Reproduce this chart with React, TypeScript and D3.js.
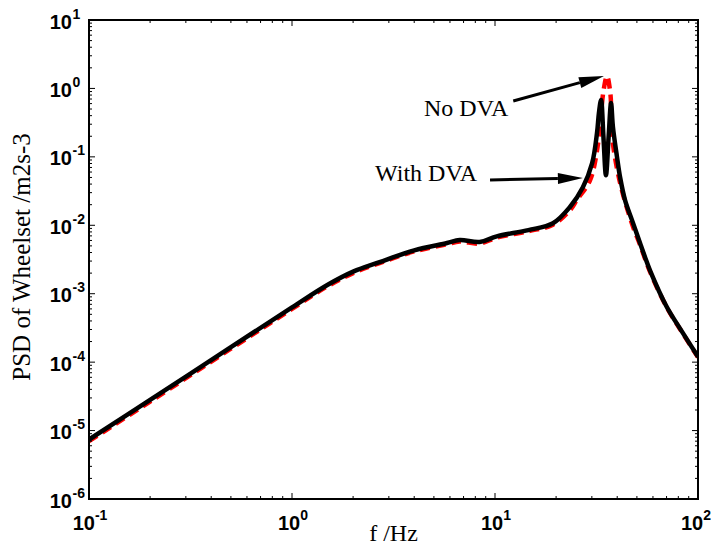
import React from "react";
import * as d3 from "d3";

const withDvaFreq = [0.1, 0.2, 0.5, 1, 1.5, 2, 2.7, 4, 5.8, 6.7, 8.4, 10.2, 14.6, 19.3, 23.4, 27.1, 30.1, 31.8, 32.5, 33.3, 34.2, 35.2, 36.3, 37.3, 38.1, 39.9, 41.3, 43.7, 47.3, 51.8, 54.8, 58, 70, 84, 100];
const withDvaPsd = [7.4e-6, 2.8e-5, 1.66e-4, 6.3e-4, 1.35e-3, 2.1e-3, 2.9e-3, 4.3e-3, 5.5e-3, 6.1e-3, 5.7e-3, 6.9e-3, 8.5e-3, 1.07e-2, 1.85e-2, 3.6e-2, 8.1e-2, 0.223, 0.437, 0.68, 0.2, 0.054, 0.2, 0.61, 0.273, 0.0995, 0.0508, 0.0234, 0.0119, 5.5e-3, 3.44e-3, 2.2e-3, 6.5e-4, 2.7e-4, 1.2e-4];

const noDvaFreq = [0.1, 0.2, 0.5, 1, 1.5, 2, 2.7, 4, 5.8, 6.7, 8.4, 10.2, 14.6, 19.3, 23.4, 25.3, 29.4, 32.5, 34.1, 35.6, 37.0, 37.8, 41.3, 47.3, 51.8, 58, 70, 84, 100];
const noDvaPsd = [7.0e-6, 2.65e-5, 1.57e-4, 6.0e-4, 1.29e-3, 2.0e-3, 2.8e-3, 4.15e-3, 5.3e-3, 5.8e-3, 5.4e-3, 6.6e-3, 8.2e-3, 1.02e-2, 1.66e-2, 2.34e-2, 4.57e-2, 0.19, 0.85, 1.51, 0.85, 0.19, 0.042, 0.0105, 5.2e-3, 2.1e-3, 6.4e-4, 2.65e-4, 1.18e-4];

const xTickExps = [-1, 0, 1, 2];
const yTickExps = [1, 0, -1, -2, -3, -4, -5, -6];

const xLabel = "f /Hz";
const yLabel = "PSD of Wheelset /m2s-3";
const annNoDva = { text: "No DVA", fromF: 12.3, fromV: 0.655, toF: 34.4, toV: 1.52 };
const annWithDva = { text: "With DVA", fromF: 9.45, fromV: 0.046, toF: 27.1, toV: 0.049 };

const W = 711, H = 547;
const L = 89, R = 698, T = 20, B = 499;
const tickFont = "'Liberation Sans', Arial, Helvetica, sans-serif";
const serif = "'Liberation Serif', 'Times New Roman', Times, serif";

function Arrow({ x1, y1, x2, y2 }: { x1: number; y1: number; x2: number; y2: number }) {
  const dx = x2 - x1, dy = y2 - y1;
  const len = Math.hypot(dx, dy);
  const ux = dx / len, uy = dy / len;
  const hl = 25, hw = 5.5;
  const bx = x2 - ux * hl, by = y2 - uy * hl;
  const px = -uy, py = ux;
  return (
    <g>
      <line x1={x1} y1={y1} x2={bx} y2={by} stroke="#000" strokeWidth={3} />
      <polygon points={`${x2},${y2} ${bx + px * hw},${by + py * hw} ${bx - px * hw},${by - py * hw}`} fill="#000" />
    </g>
  );
}

export default function App() {
  const x = d3.scaleLog().domain([0.1, 100]).range([L, R]);
  const y = d3.scaleLog().domain([1e-6, 10]).range([B, T]);

  const line = d3.line<[number, number]>()
    .x((d) => x(d[0]))
    .y((d) => y(d[1]))
    .curve(d3.curveCatmullRom.alpha(0.5));

  const withPts = withDvaFreq.map((f, i) => [f, withDvaPsd[i]] as [number, number]);
  const noPts = noDvaFreq.map((f, i) => [f, noDvaPsd[i]] as [number, number]);

  const xMinor: number[] = [];
  for (let e = -1; e < 2; e++) for (let m = 2; m <= 9; m++) xMinor.push(m * Math.pow(10, e));
  const yMinor: number[] = [];
  for (let e = -6; e < 1; e++) for (let m = 2; m <= 9; m++) yMinor.push(m * Math.pow(10, e));

  const a1 = { x1: x(annNoDva.fromF), y1: y(annNoDva.fromV), x2: x(annNoDva.toF), y2: y(annNoDva.toV) };
  const a2 = { x1: x(annWithDva.fromF), y1: y(annWithDva.fromV), x2: x(annWithDva.toF), y2: y(annWithDva.toV) };

  return (
    <svg width={W} height={H} style={{ position: "absolute", left: 0, top: 0, background: "#fff" }}>
      <defs>
        <clipPath id="plotclip">
          <rect x={L} y={T} width={R - L} height={B - T} />
        </clipPath>
      </defs>
      <rect x={0} y={0} width={W} height={H} fill="#fff" />
      <g clipPath="url(#plotclip)">
        <path d={line(noPts) || ""} fill="none" stroke="#ff0000" strokeWidth={4.5} strokeDasharray="10,6" />
        <path d={line(withPts) || ""} fill="none" stroke="#000" strokeWidth={4.5} strokeLinejoin="round" />
      </g>
      <g stroke="#000" strokeWidth={1}>
        {xTickExps.map((e) => {
          const xv = x(Math.pow(10, e));
          return (
            <g key={"xt" + e}>
              <line x1={xv} x2={xv} y1={B} y2={B - 6} />
              <line x1={xv} x2={xv} y1={T} y2={T + 6} />
            </g>
          );
        })}
        {xMinor.map((v) => (
          <g key={"xm" + v}>
            <line x1={x(v)} x2={x(v)} y1={B} y2={B - 3} />
            <line x1={x(v)} x2={x(v)} y1={T} y2={T + 3} />
          </g>
        ))}
        {yTickExps.map((e) => {
          const yv = y(Math.pow(10, e));
          return (
            <g key={"yt" + e}>
              <line x1={L} x2={L + 6} y1={yv} y2={yv} />
              <line x1={R} x2={R - 6} y1={yv} y2={yv} />
            </g>
          );
        })}
        {yMinor.map((v) => (
          <g key={"ym" + v}>
            <line x1={L} x2={L + 3} y1={y(v)} y2={y(v)} />
            <line x1={R} x2={R - 3} y1={y(v)} y2={y(v)} />
          </g>
        ))}
      </g>
      <rect x={L} y={T} width={R - L} height={B - T} fill="none" stroke="#000" strokeWidth={2} />
      <g fontFamily={tickFont} fontWeight="bold" fill="#000">
        {yTickExps.map((e) => {
          const yv = y(Math.pow(10, e));
          return (
            <g key={"yl" + e}>
              <text x={72} y={yv + 8.5} fontSize={20} textAnchor="end">10</text>
              <text x={72.5} y={yv - 1.5} fontSize={14}>{String(e)}</text>
            </g>
          );
        })}
        {xTickExps.map((e) => {
          const xv = x(Math.pow(10, e));
          return (
            <text key={"xl" + e} x={e === 2 ? xv - 2 : xv + 1} y={530} fontSize={20} textAnchor="middle">
              <tspan>10</tspan>
              <tspan dy={-10} fontSize={14}>{String(e)}</tspan>
            </text>
          );
        })}
      </g>
      <text x={(L + R) / 2} y={541} fontFamily={serif} fontSize={24} textAnchor="middle" fill="#000">{xLabel}</text>
      <text transform={`translate(30, 257) rotate(-90)`} fontFamily={serif} fontSize={25} textAnchor="middle" fill="#000">{yLabel}</text>
      <Arrow {...a1} />
      <Arrow {...a2} />
      <text x={a1.x1 - 5} y={a1.y1 + 15} fontFamily={serif} fontSize={24} textAnchor="end" fill="#000">{annNoDva.text}</text>
      <text x={a2.x1 - 13} y={a2.y1 + 1} fontFamily={serif} fontSize={24} textAnchor="end" fill="#000">{annWithDva.text}</text>
    </svg>
  );
}
